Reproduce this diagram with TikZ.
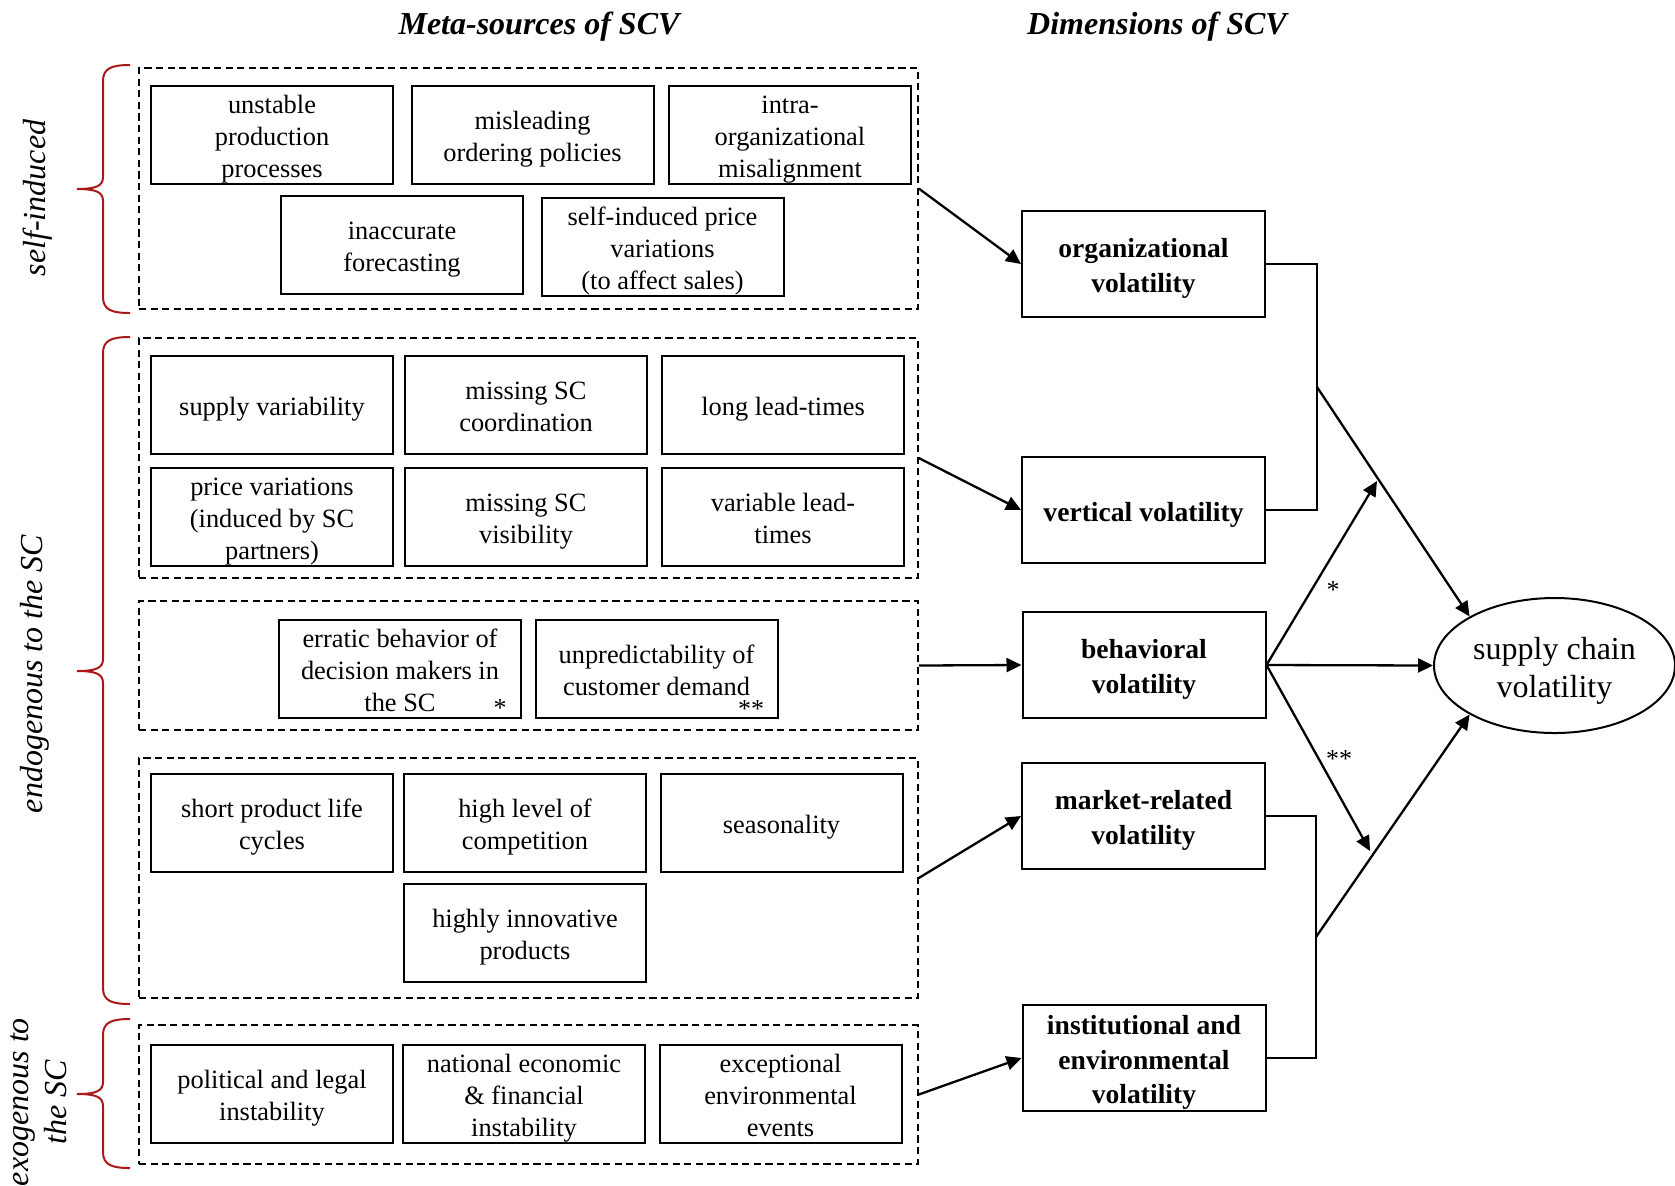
\documentclass[tikz,border=0pt]{standalone}
\usepackage{fontspec}
\setmainfont{Liberation Serif}
\usetikzlibrary{arrows.meta,shapes.geometric,calc}
\definecolor{braceRed}{RGB}{170,24,24}
% fixed first-line height and last-line depth, so box texts sit like the other labels
\newcommand\boxtop{\rule{0pt}{1.02em}}
\newcommand\boxbot{\rule[-0.21em]{0pt}{0.21em}}
% curly side brace: top y, tip y, bottom y (all in px units)
\newcommand\sidebracket[3]{%
  \draw[sidebrace] (130,#1) .. controls (112,#1) and (103,#1+3) .. (103,#1+16)
    -- (103,#2-12) .. controls (103,#2-3) and (96,#2) .. (77,#2)
    .. controls (96,#2) and (103,#2+3) .. (103,#2+12)
    -- (103,#3-16) .. controls (103,#3-3) and (112,#3) .. (130,#3);}
\begin{document}
\begin{tikzpicture}[x=0.5pt,y=-0.5pt,
  srcbox/.style={draw, line width=1pt, minimum width=121pt, minimum height=49pt,
    inner sep=0pt, align=center, font=\fontsize{13.2}{16}\selectfont},
  group/.style={draw, dash pattern=on 3.6pt off 2.2pt, line width=0.75pt,
    minimum width=389.5pt, inner sep=0pt},
  dimbox/.style={draw, line width=1pt, minimum width=121.5pt, minimum height=53pt,
    inner sep=0pt, align=center, font=\fontsize{13.8}{17.4}\selectfont\bfseries},
  link/.style={line width=1.15pt, -{Triangle[length=7.5pt,width=7pt]}},
  joint/.style={line width=0.8pt},
  starlbl/.style={inner sep=0pt, font=\fontsize{13}{16}\selectfont},
  sidelabel/.style={rotate=90, align=center, inner sep=0pt, font=\fontsize{16}{19}\selectfont\itshape},
  heading/.style={inner sep=0pt, font=\fontsize{16}{19}\selectfont\bfseries\itshape},
  sidebrace/.style={draw=braceRed, line width=1pt}
]
\useasboundingbox (0,0) rectangle (1675,1185);

% column headings
\node[heading] (h1) at (539,27) {Meta-sources of SCV};
\node[heading] (h2) at (1157,27) {Dimensions of SCV};

% side labels and braces
\node[sidelabel] (l1) at (38,198) {self-induced};
\node[sidelabel] (l2) at (35,674) {endogenous to the SC};
\node[sidelabel] (l3) at (39,1102) {exogenous to\\the SC};
\sidebracket{65}{189}{313}
\sidebracket{337}{671}{1004}
\sidebracket{1019}{1094}{1168}

% dashed groups of meta-sources
\node[group, minimum height=120.5pt] (g1) at (528.5,188.5) {};
\node[group, minimum height=120pt]   (g2) at (528.5,458) {};
\node[group, minimum height=64.5pt]  (g3) at (528.5,665.5) {};
\node[group, minimum height=120pt]   (g4) at (528.5,878) {};
\node[group, minimum height=69.5pt]  (g5) at (528.5,1094.5) {};

% self-induced sources
\node[srcbox] (s11) at (272,134.5) {\boxtop unstable\\production\\processes\boxbot};
\node[srcbox] (s12) at (532.5,134.5) {\boxtop misleading\\ordering policies\boxbot};
\node[srcbox] (s13) at (790,134.5) {\boxtop intra-\\organizational\\misalignment\boxbot};
\node[srcbox] (s14) at (402,245) {\boxtop inaccurate\\forecasting\boxbot};
\node[srcbox] (s15) at (662.5,246.5) {\boxtop self-induced price\\variations\\(to affect sales)\boxbot};

% vertical sources
\node[srcbox] (s21) at (272,405) {\boxtop supply variability\boxbot};
\node[srcbox] (s22) at (526,405) {\boxtop missing SC\\coordination\boxbot};
\node[srcbox] (s23) at (783,405) {\boxtop long lead-times\boxbot};
\node[srcbox] (s24) at (272,516.5) {\boxtop price variations\\(induced by SC\\partners)\boxbot};
\node[srcbox] (s25) at (526,516.5) {\boxtop missing SC\\visibility\boxbot};
\node[srcbox] (s26) at (783,516.5) {\boxtop variable lead-\\times\boxbot};

% behavioral sources
\node[srcbox] (s31) at (400,669) {\boxtop erratic behavior of\\decision makers in\\the SC\boxbot};
\node[srcbox] (s32) at (656.5,669) {\boxtop unpredictability of\\customer demand\boxbot};
\node[starlbl] (a1) at (500,708) {*};
\node[starlbl] (a2) at (751,709) {**};

% market-related sources
\node[srcbox] (s41) at (272,822.5) {\boxtop short product life\\cycles\boxbot};
\node[srcbox] (s42) at (525,822.5) {\boxtop high level of\\competition\boxbot};
\node[srcbox] (s43) at (781.5,822.5) {\boxtop seasonality\boxbot};
\node[srcbox] (s44) at (525,932.5) {\boxtop highly innovative\\products\boxbot};

% exogenous sources
\node[srcbox] (s51) at (272,1094) {\boxtop political and legal\\instability\boxbot};
\node[srcbox] (s52) at (524,1094) {\boxtop national economic\\\& financial\\instability\boxbot};
\node[srcbox] (s53) at (780.5,1094) {\boxtop exceptional\\environmental\\events\boxbot};

% dimensions of SCV
\node[dimbox] (org)  at (1143.5,264) {\boxtop organizational\\volatility\boxbot};
\node[dimbox] (vert) at (1143.5,510) {\boxtop vertical volatility\boxbot};
\node[dimbox] (beh)  at (1144,665) {\boxtop behavioral\\volatility\boxbot};
\node[dimbox] (mkt)  at (1143.5,816) {\boxtop market-related\\volatility\boxbot};
\node[dimbox] (inst) at (1144,1058) {\boxtop institutional and\\environmental\\volatility\boxbot};

% supply chain volatility
\node[draw, ellipse, line width=1pt, minimum width=120.5pt, minimum height=67.5pt,
  inner sep=0pt, align=center, font=\fontsize{16}{19.2}\selectfont] (scv) at (1554.5,665.5)
  {\boxtop supply chain\\volatility\boxbot};

% groups to dimensions
\draw[link] (g1.east) -- (org.west);
\draw[link] (g2.east) -- (vert.west);
\draw[link] (g3.east) -- (beh.west);
\draw[link] (g4.east) -- (mkt.west);
\draw[link] (g5.east) -- (inst.west);

% joints of paired dimensions
\coordinate (jA) at (1317,387);
\coordinate (jB) at (1316,937);
\draw[joint] (org.east) -| (jA) |- (vert.east);
\draw[joint] (mkt.east) -| (jB) |- (inst.east);
\draw[link] (jA) -- (scv.150);
\draw[link] (jB) -- (scv.210);

% behavioral influences
\coordinate (upTip) at (1377,481);
\coordinate (dnTip) at (1370,851);
\draw[link] (beh.east) -- (upTip);
\draw[link] (beh.east) -- (scv.west);
\draw[link] (beh.east) -- (dnTip);
\node[starlbl] (a3) at (1333,590) {*};
\node[starlbl] (a4) at (1339,759) {**};
\end{tikzpicture}
\end{document}
